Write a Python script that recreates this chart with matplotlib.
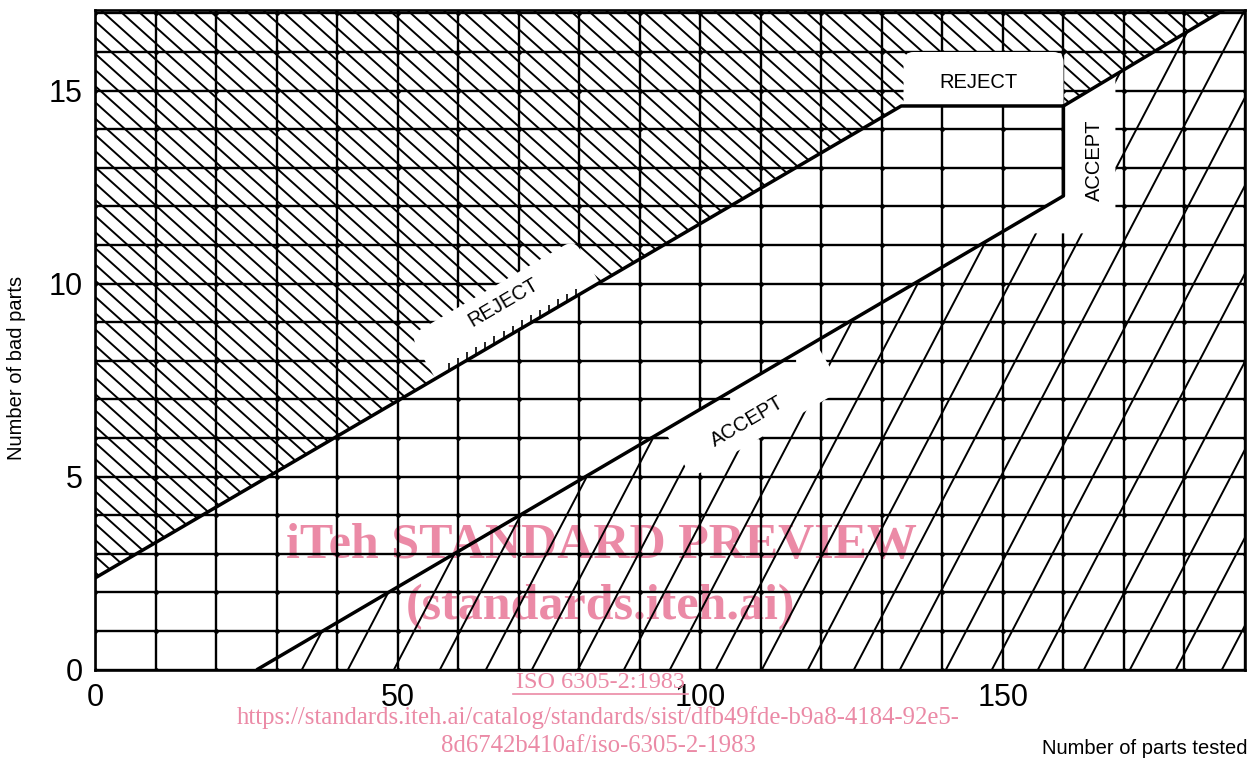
import numpy as np
import matplotlib
matplotlib.use("Agg")
import matplotlib.pyplot as plt
from matplotlib.collections import LineCollection
from matplotlib.lines import Line2D
from matplotlib.patches import FancyBboxPatch, Polygon
from matplotlib.transforms import Affine2D, ScaledTranslation

# Decision lines (number tested, number of bad parts).
reject_n = [0, 133.2, 160, 190]
reject_d = [2.37, 14.6, 14.6, 17.42]
accept_n = [26.8, 160, 160]
accept_d = [0, 12.27, 14.6]

x_ticks = [0, 50, 100, 150]
y_ticks = [0, 5, 10, 15]
x_max = 190
y_max = 17.1

SANS = ["Liberation Sans", "DejaVu Sans"]
SERIF = ["Liberation Serif", "DejaVu Serif"]
PINK = "#EB8AA6"

fig = plt.figure(figsize=(12.58, 7.61), dpi=100)
ax = fig.add_axes([95 / 1258, 91.5 / 761, 1150 / 1258, 660 / 761])
ax.set_xlim(0, x_max)
ax.set_ylim(0, y_max)

# Grid every 10 parts / every bad part, labels every 50 / 5.
ax.set_xticks(x_ticks)
ax.set_yticks(y_ticks)
ax.set_xticks(np.arange(0, x_max + 1, 10), minor=True)
ax.set_yticks(np.arange(0, 18, 1), minor=True)
ax.set_axisbelow(True)
ax.grid(which="both", color="black", lw=1.7)
ax.tick_params(which="both", length=0)
ax.tick_params(axis="x", pad=10)
ax.tick_params(axis="y", pad=9)
ax.set_xticklabels([str(v) for v in x_ticks], fontsize=22, family=SANS)
ax.set_yticklabels([str(v) for v in y_ticks], fontsize=22, family=SANS)
for sp in ax.spines.values():
    sp.set_linewidth(1.9)

# grid nodes
gx, gy = np.meshgrid(np.arange(0, x_max + 1, 10), np.arange(0, 18, 1))
ax.plot(gx.ravel(), gy.ravel(), "o", ms=2.4, color="black", zorder=0.6)

# Regions.
reject_poly = Polygon(list(zip(reject_n, reject_d)) +
                      [(x_max, y_max + 1), (0, y_max + 1)],
                      closed=True, fc="none", ec="none")
accept_poly = Polygon(list(zip(accept_n, accept_d)) +
                      [(reject_n[-1], reject_d[-1]), (x_max, 0)],
                      closed=True, fc="none", ec="none")
ax.add_patch(reject_poly)
ax.add_patch(accept_poly)

# Hatching: "\" in the reject zone, steep "/" in the accept zone.
segs = [[(0, c), (x_max, c - 0.141 * x_max)] for c in np.arange(0, 50, 0.42)]
lc = LineCollection(segs, colors="black", lw=1.4, zorder=0.3)
ax.add_collection(lc)
lc.set_clip_path(reject_poly)

segs = [[(x0, 0), (x0 + 18 / 0.3, 18)] for x0 in np.arange(34.2 - 7.6 * 9, 200, 7.6)]
lc = LineCollection(segs, colors="black", lw=1.4, zorder=0.3)
ax.add_collection(lc)
lc.set_clip_path(accept_poly)


def angle_of(n, d):
    p1 = ax.transData.transform((n[0], d[0]))
    p2 = ax.transData.transform((n[1], d[1]))
    return np.degrees(np.arctan2(p2[1] - p1[1], p2[0] - p1[0]))


def white_patch(cx, cy, w, h, angle, clip, r=12):
    tr = Affine2D().rotate_deg(angle) + ScaledTranslation(cx, cy, ax.transData)
    p = FancyBboxPatch((-w / 2, -h / 2), w, h,
                       boxstyle="round,pad=0,rounding_size=%d" % r,
                       transform=tr, fc="white", ec="none", zorder=3)
    ax.add_patch(p)
    p.set_clip_path(clip)


ang_r = angle_of(reject_n, reject_d)
ang_a = angle_of(accept_n, accept_d)

white_patch(69.8, np.interp(69.8, reject_n, reject_d), 190, 100, ang_r, reject_poly)
white_patch(106.5, np.interp(106.5, accept_n[:2], accept_d[:2]), 175, 110, ang_a, accept_poly)
white_patch(146.8, 14.6, 160, 108, 0, reject_poly, r=10)
white_patch(160, 13.45, 104, 166, 0, accept_poly, r=10)

# Decision boundaries.
ax.plot(reject_n, reject_d, color="black", lw=2.5, zorder=4, solid_capstyle="round")
ax.plot(accept_n, accept_d, color="black", lw=2.5, zorder=4, solid_capstyle="round")

# remnants along the boundaries inside the label patches
tx = np.arange(58.5, 80, 1.5)
ty = np.interp(tx, reject_n, reject_d)
ax.add_collection(LineCollection([[(a, b), (a, b + 0.2)] for a, b in zip(tx, ty)],
                                 colors="black", lw=1.2, zorder=4))
for yy in [6, 7, 8]:
    xc = np.interp(yy, accept_d[:2], accept_n[:2])
    ax.plot([xc, xc + 2], [yy, yy], color="black", lw=1.6, zorder=4)

# Zone labels.
ax.text(67.4, 9.5, "REJECT", rotation=ang_r, rotation_mode="anchor",
        ha="center", va="center", fontsize=14.5, family=SANS, zorder=5)
ax.text(107.7, 6.43, "ACCEPT", rotation=ang_a, rotation_mode="anchor",
        ha="center", va="center", fontsize=14.5, family=SANS, zorder=5)
ax.text(146.0, 15.2, "REJECT", ha="center", va="center",
        fontsize=14.5, family=SANS, zorder=5)
ax.text(165.2, 13.2, "ACCEPT", rotation=90, ha="center", va="center",
        fontsize=14.5, family=SANS, zorder=5)

fig.text(17 / 1258, 1 - 368 / 761, "Number of bad parts", rotation=90,
         ha="center", va="center", fontsize=14.5, family=SANS)
fig.text(1247 / 1258, 1 - 748 / 761, "Number of parts tested",
         ha="right", va="center", fontsize=14.5, family=SANS)

# Watermark of the source document.
ax.text(601 / 1258, 1 - 546 / 761, "iTeh STANDARD PREVIEW", transform=fig.transFigure,
        ha="center", va="center", fontsize=36, fontweight="bold", family=SERIF,
        color=PINK, zorder=0.1, clip_on=False)
ax.text(601 / 1258, 1 - 607 / 761, "(standards.iteh.ai)", transform=fig.transFigure,
        ha="center", va="center", fontsize=36, fontweight="bold", family=SERIF,
        color=PINK, zorder=0.1, clip_on=False)
fig.text(600 / 1258, 1 - 683 / 761, "ISO 6305-2:1983", ha="center", va="center",
         fontsize=17.5, family=SERIF, color=PINK)
fig.add_artist(Line2D([513 / 1258, 688 / 1258], [1 - 694 / 761, 1 - 694 / 761],
                      color=PINK, lw=1.2, transform=fig.transFigure))
fig.text(598 / 1258, 1 - 718 / 761,
         "https://standards.iteh.ai/catalog/standards/sist/dfb49fde-b9a8-4184-92e5-",
         ha="center", va="center", fontsize=17.8, family=SERIF, color=PINK)
fig.text(598 / 1258, 1 - 746 / 761, "8d6742b410af/iso-6305-2-1983",
         ha="center", va="center", fontsize=17.8, family=SERIF, color=PINK)

fig.savefig("out.png", dpi=100)
